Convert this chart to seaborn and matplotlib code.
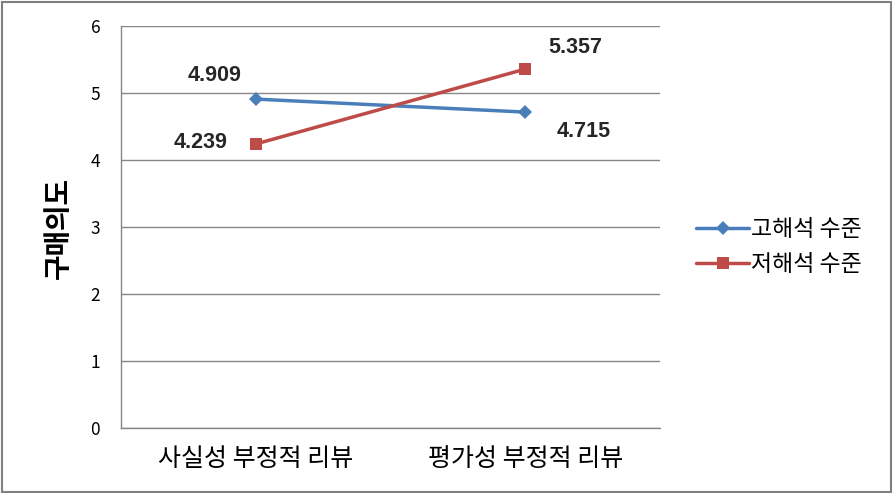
import matplotlib
matplotlib.use("Agg")
import matplotlib.pyplot as plt
import seaborn as sns
import pandas as pd
from matplotlib.patches import Rectangle

categories = ["사실성 부정적 리뷰", "평가성 부정적 리뷰"]
series_names = ["고해석 수준", "저해석 수준"]
high_values = [4.909, 4.715]
low_values = [4.239, 5.357]
y_ticks = [0, 1, 2, 3, 4, 5, 6]
y_label = "구매의도"

sns.set_theme(style="white")
plt.rcParams['font.family'] = ['Noto Sans CJK KR', 'DejaVu Sans']

df = pd.DataFrame({
    "category": categories * 2,
    "x": [0, 1, 0, 1],
    "value": high_values + low_values,
    "series": [series_names[0]] * 2 + [series_names[1]] * 2,
})

colors = {series_names[0]: "#4A7EBB", series_names[1]: "#BE4B48"}
markers = {series_names[0]: "D", series_names[1]: "s"}

fig = plt.figure(figsize=(8.94, 4.93), dpi=100)
ax = fig.add_axes([121/894, 1-428/493, (660-121)/894, (428-26)/493])

sns.lineplot(data=df, x="x", y="value", hue="series", style="series",
             palette=colors, markers=markers, dashes=False, linewidth=2.5,
             markersize=8.5, markeredgewidth=0, ax=ax, legend=True)
for line in ax.lines:
    if line.get_marker() == "D":
        line.set_markersize(7)

ax.set_xlim(-0.5, 1.5)
ax.set_ylim(0, 6)
ax.set_yticks(y_ticks)
ax.set_yticklabels([str(t) for t in y_ticks], fontsize=12.5, color="#000000")
ax.set_xticks([0, 1])
ax.set_xticklabels(categories, fontsize=18, color="#000000", fontweight="medium")
ax.tick_params(axis="x", pad=13, length=0)
ax.tick_params(axis="y", pad=15, length=0)
ax.set_xlabel("")
ax.set_ylabel(y_label, fontsize=20, fontweight="bold", color="#000000")
ax.yaxis.set_label_coords((73 - 121) / 539, 0.4975)
ax.grid(axis="y", color="#868686", linewidth=1)
ax.set_axisbelow(True)
for s in ["top", "right"]:
    ax.spines[s].set_visible(False)
for s in ["left", "bottom"]:
    ax.spines[s].set_color("#868686")
    ax.spines[s].set_linewidth(1)

# value labels: offsets in pixels
labels = [
    (0, high_values[0], -41, 24),
    (0, low_values[0], -55, 1),
    (1, low_values[1], 50, 22),
    (1, high_values[1], 58, -19),
]
for x, y, dx, dy in labels:
    ax.annotate("{:.3f}".format(y), (x, y), xytext=(dx * 0.72, dy * 0.72),
                textcoords="offset points", ha="center", va="center",
                fontsize=15.5, fontweight="bold",
                family=["Liberation Sans", "DejaVu Sans"])

leg = ax.legend(loc="center left", bbox_to_anchor=(1.029, 0.45), frameon=False,
                fontsize=16.5, handlelength=2.3, handletextpad=0.1, labelspacing=0.55)
for t in leg.get_texts():
    t.set_color("#000000")

fig.patches.append(Rectangle((0.002, 0.003), 0.995, 0.993, transform=fig.transFigure,
                             fill=False, edgecolor="#808080", linewidth=1.5))

fig.savefig("out.png", dpi=100)
